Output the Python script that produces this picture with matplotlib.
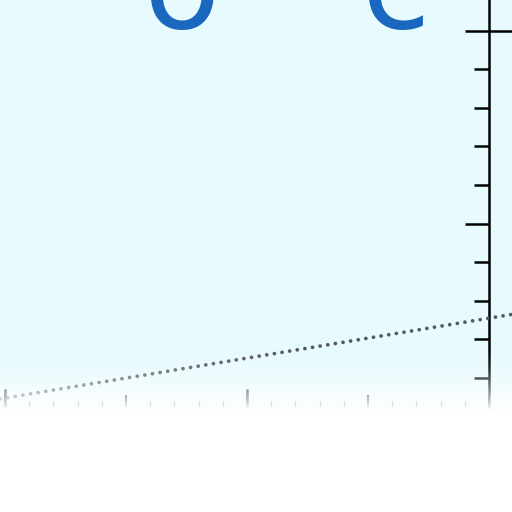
import numpy as np
import matplotlib
matplotlib.use("Agg")
from matplotlib import pyplot as plt

# data
x_major = [0, 1, 2, 3, 4]
x_long = [0, 2]
y_minor = [1, 2, 3, 4, 6, 7, 8, 9]
y_major = [5, 10]
trend_x = [0, 4]
trend_y = [0.48, 2.55]
letters = ["o", "c"]
letter_x = [181, 396]

bg = "#e7fafd"
blue = "#1967bf"

fig = plt.figure(figsize=(5.12, 5.12), dpi=100)
fig.patch.set_facecolor("white")
ax = fig.add_axes([0, 0, 1, 1])
ax.set_facecolor(bg)

# pixel -> data mapping: x ticks 121 px apart, y ticks 38.6 px apart
ax.set_xlim(-5 / 121, 507 / 121)
ax.set_ylim((416.6 - 512) / 38.6, 416.6 / 38.6)
ybase = (416.6 - 407) / 38.6

# dotted trend line
ax.axline((trend_x[0], trend_y[0]), (trend_x[1], trend_y[1]),
          color="#55595c", lw=2.7, ls=(0, (0.01, 2.05)),
          dash_capstyle="round", zorder=3)

# vertical axis on the right, ticks pointing left
for s in ["right", "top"]:
    ax.spines[s].set_visible(False)
ax.spines["left"].set_position(("data", 4))
ax.spines["left"].set_bounds(ybase, ax.get_ylim()[1])
ax.spines["left"].set_linewidth(1.8)
ax.set_yticks(y_major)
ax.set_yticks(y_minor, minor=True)
ax.set_yticklabels([])
ax.tick_params(axis="y", which="major", direction="out", length=17, width=1.8, color="black")
ax.tick_params(axis="y", which="minor", direction="out", length=11, width=1.8, color="black")
ax.hlines(y_major[-1], 4, ax.get_xlim()[1], color="black", lw=1.8)

# bottom axis: ticks only
ax.spines["bottom"].set_position(("data", ybase))
ax.spines["bottom"].set_visible(False)
ax.set_xticks(x_major)
ax.set_xticks(np.arange(0, 4.01, 0.2), minor=True)
ax.set_xticklabels([])
ax.tick_params(axis="x", which="major", direction="in", length=9, width=1.5, color="#222222")
ax.tick_params(axis="x", which="minor", direction="in", length=4, width=1, color="#444444")
ylo, yhi = ax.get_ylim()
sec = ax.secondary_xaxis((ybase - ylo) / (yhi - ylo))
sec.set_xticks(x_long)
sec.set_xticklabels([])
sec.spines["bottom"].set_visible(False)
sec.tick_params(direction="in", length=13, width=1.8, color="#222222")

# big letters clipped at the top
for t, px in zip(letters, letter_x):
    fig.text(px / 512, 1 - 28 / 512, t, color=blue, fontsize=90,
             ha="center", va="baseline", family="DejaVu Sans")

# white fade over the lower part
ov = fig.add_axes([0, 0, 1, 1], zorder=10)
ov.axis("off")
rows = np.arange(512)
t = np.clip((rows - 345) / 65.0, 0, 1) ** 1.6
img = np.ones((512, 1, 4))
img[:, 0, 3] = t
ov.imshow(img, aspect="auto", extent=[0, 1, 0, 1], origin="upper")
ov.set_xlim(0, 1)
ov.set_ylim(0, 1)

fig.savefig("out.png", dpi=100, facecolor="white")
